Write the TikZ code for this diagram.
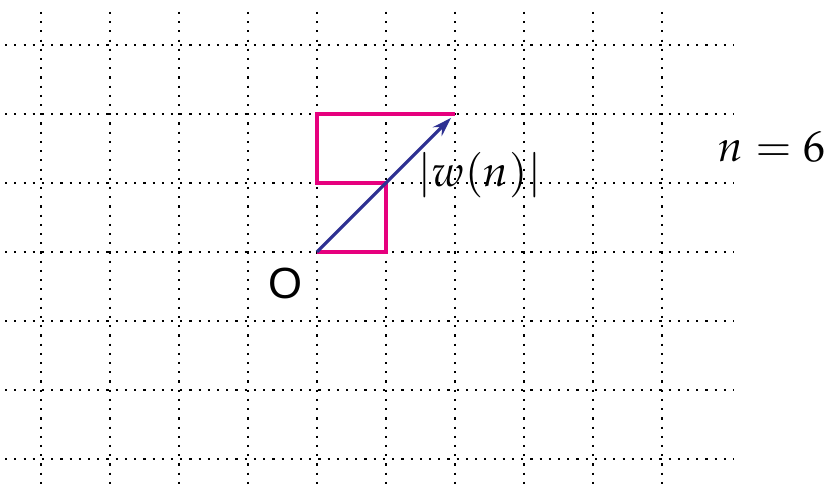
\documentclass[tikz,border=0pt]{standalone}
\usepackage{mathpazo}
\usepackage[no-math]{fontspec}
\newfontfamily\labelsans{Liberation Sans}
\usepackage{tikz}
\usetikzlibrary{positioning,arrows.meta,calc}
\definecolor{walkpink}{RGB}{230,0,126}
\definecolor{walkblue}{RGB}{46,49,146}
\tikzset{
  gridline/.style={line width=0.9pt,dash pattern=on 0.9pt off 2.9pt},
  walkpath/.style={walkpink,line width=1.4pt,line join=miter},
  walkvec/.style={-{Stealth[length=0.28cm,width=0.18cm]},walkblue,
            line width=1.3pt,shorten >=0.08cm},
  lbl/.style={inner sep=0pt,font=\fontsize{18}{21}\selectfont},
}

\begin{document}
\begin{tikzpicture}
  \useasboundingbox (-4.594,-3.464) rectangle (7.435,3.652);
  \foreach \gx in {-4,...,5}
    \draw[gridline] (\gx,3.48) -- (\gx,-3.6);
  \foreach \gy in {-3,...,3}
    \draw[gridline] (-4.52,\gy) -- (6.05,\gy);
  \coordinate (o)  at (0,0);
  \coordinate (p1) at (1,0);
  \coordinate (p2) at (1,1);
  \coordinate (p3) at (0,1);
  \coordinate (p4) at (0,2);
  \coordinate (p5) at (2,2);
  \draw[walkpath] (o) -- (p1) -- (p2) -- (p3) -- (p4) -- (p5);
  \draw[walkvec] (o) -- (p5);
  \node[lbl] (origin) at (-0.45,-0.46) {\labelsans O};
  \node[lbl] (dist)   at (2.36,1.12)   {$|w(n)|$};
  \node[lbl] (steps)  at (6.59,1.52)   {$n = 6$};
  \node[lbl,anchor=base] (title) at (-2.87,3.82) {$E[\,|w(n)|^2\,]$};
\end{tikzpicture}
\end{document}
